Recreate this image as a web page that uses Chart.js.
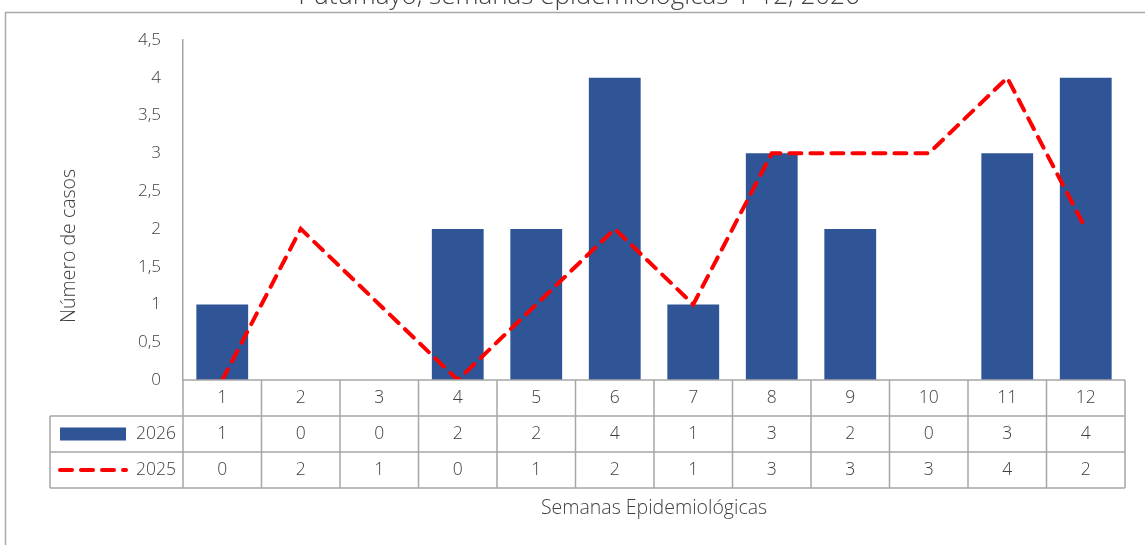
<!DOCTYPE html>
<html>
<head>
<meta charset="utf-8">
<script src="https://cdn.jsdelivr.net/npm/chart.js@4.4.1/dist/chart.umd.min.js"></script>
<style>
  html, body { margin: 0; padding: 0; background: #fff; }
  #wrap { width: 1145px; height: 545px; position: relative; }
</style>
</head>
<body>
<div id="wrap"><canvas id="casosChart"></canvas></div>
<script>
const semanas = ['1', '2', '3', '4', '5', '6', '7', '8', '9', '10', '11', '12'];
const casos2026 = [1, 0, 0, 2, 2, 4, 1, 3, 2, 0, 3, 4];
const casos2025 = [0, 2, 1, 0, 1, 2, 1, 3, 3, 3, 4, 2];
const yTicks = [0, 0.5, 1, 1.5, 2, 2.5, 3, 3.5, 4, 4.5];

const FONT = '"Open Sans", "Segoe UI", sans-serif';
const TEXT = '#404040';
const GRID = '#a6a6a6';
const AZUL = '#2F5597';
const ROJO = '#FF0000';

// tabla de datos, titulos y marco
const tablaPlugin = {
  id: 'tabla',
  afterDraw(chart) {
    const ctx = chart.ctx;
    const area = chart.chartArea;
    const x = chart.scales.x;
    const n = semanas.length;
    const colW = (area.right - area.left) / n;
    const rowH = 36;
    const top = area.bottom;
    const legLeft = 50;

    ctx.save();
    // marco
    ctx.strokeStyle = '#a8a8a8';
    ctx.lineWidth = 1.5;
    ctx.beginPath();
    ctx.moveTo(5.5, 545);
    ctx.lineTo(5.5, 12.5);
    ctx.lineTo(1145, 12.5);
    ctx.stroke();

    // titulo
    ctx.fillStyle = TEXT;
    ctx.font = '300 26px ' + FONT;
    ctx.textAlign = 'center';
    ctx.textBaseline = 'alphabetic';
    ctx.fillText('Putumayo, semanas epidemiológicas 1-12, 2026', 579, 4);

    // rejilla de la tabla
    ctx.strokeStyle = GRID;
    ctx.lineWidth = 1.5;
    ctx.beginPath();
    ctx.moveTo(area.left, top);
    ctx.lineTo(area.right, top);
    for (let r = 1; r <= 3; r++) {
      ctx.moveTo(legLeft, top + r * rowH);
      ctx.lineTo(area.right, top + r * rowH);
    }
    for (let i = 0; i <= n; i++) {
      const cx = area.left + i * colW;
      ctx.moveTo(cx, top);
      ctx.lineTo(cx, top + 3 * rowH);
    }
    ctx.moveTo(legLeft, top + rowH);
    ctx.lineTo(legLeft, top + 3 * rowH);
    ctx.stroke();

    // textos de celdas
    ctx.fillStyle = TEXT;
    ctx.font = '300 17.5px ' + FONT;
    ctx.textAlign = 'center';
    ctx.textBaseline = 'middle';
    semanas.forEach((s, i) => {
      const cx = x.getPixelForValue(i);
      ctx.fillText(s, cx, top + rowH * 0.5);
      ctx.fillText(String(casos2026[i]), cx, top + rowH * 1.5);
      ctx.fillText(String(casos2025[i]), cx, top + rowH * 2.5);
    });

    // leyenda en la tabla
    ctx.textAlign = 'right';
    ctx.fillText('2026', area.left - 7, top + rowH * 1.5);
    ctx.fillText('2025', area.left - 7, top + rowH * 2.5);
    ctx.fillStyle = AZUL;
    ctx.fillRect(60, top + rowH * 1.5 - 6.5, 66, 13);
    ctx.strokeStyle = ROJO;
    ctx.lineWidth = 4;
    ctx.lineCap = 'round';
    ctx.setLineDash([12, 9]);
    ctx.beginPath();
    ctx.moveTo(60, top + rowH * 2.5);
    ctx.lineTo(126, top + rowH * 2.5);
    ctx.stroke();
    ctx.setLineDash([]);

    // titulos de ejes
    ctx.fillStyle = TEXT;
    ctx.font = '300 19.5px ' + FONT;
    ctx.textAlign = 'center';
    ctx.fillText('Semanas Epidemiológicas', (area.left + area.right) / 2, 508);
    ctx.translate(69, 246);
    ctx.rotate(-Math.PI / 2);
    ctx.fillText('Número de casos', 0, 0);
    ctx.restore();
  }
};

new Chart(document.getElementById('casosChart'), {
  type: 'bar',
  data: {
    labels: semanas,
    datasets: [
      {
        type: 'line',
        label: '2025',
        data: casos2025,
        borderColor: ROJO,
        backgroundColor: ROJO,
        borderWidth: 4,
        borderDash: [12, 9],
        borderCapStyle: 'round',
        pointRadius: 0,
        tension: 0,
        order: 0
      },
      {
        label: '2026',
        data: casos2026,
        backgroundColor: AZUL,
        categoryPercentage: 1,
        barPercentage: 0.66,
        order: 1
      }
    ]
  },
  options: {
    responsive: true,
    maintainAspectRatio: false,
    animation: false,
    layout: { padding: { left: 50, right: 20, top: 40, bottom: 165 } },
    plugins: {
      legend: { display: false },
      title: { display: false },
      tooltip: { enabled: false }
    },
    scales: {
      x: { display: false },
      y: {
        min: 0,
        max: 4.5,
        afterFit(scale) { scale.width = 133; },
        afterBuildTicks(scale) { scale.ticks = yTicks.map(v => ({ value: v })); },
        grid: { display: false, drawTicks: false },
        border: { display: true, color: GRID, width: 1.5 },
        ticks: {
          padding: 22,
          color: TEXT,
          font: { family: FONT, size: 17, weight: 300 },
          callback: v => String(v).replace('.', ',')
        }
      }
    }
  },
  plugins: [tablaPlugin]
});
</script>
</body>
</html>
